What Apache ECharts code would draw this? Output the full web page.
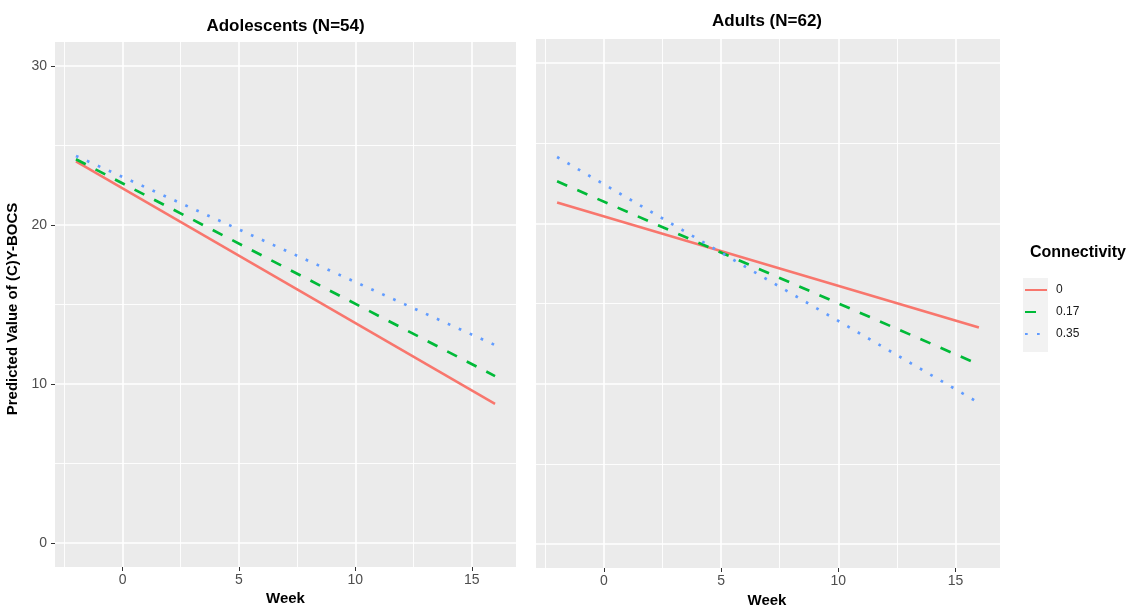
<!DOCTYPE html>
<html>
<head>
<meta charset="utf-8">
<script src="https://cdn.jsdelivr.net/npm/echarts@6/dist/echarts.min.js"></script>
<style>
  html, body { margin: 0; padding: 0; background: #fff; }
  #chart { width: 1145px; height: 609px; }
</style>
</head>
<body>
<div id="chart"></div>
<script>
// ---- data ----
const weekRange = [-2, 16];
const groups = ['0', '0.17', '0.35'];
const adolescent0 = [24.0, 8.75];
const adolescent017 = [24.13, 10.5];
const adolescent035 = [24.34, 12.45];
const adult0 = [21.3, 13.5];
const adult017 = [22.62, 11.2];
const adult035 = [24.14, 8.8];
const xTicks = [0, 5, 10, 15];
const yTicks = [0, 10, 20, 30];
const xMinor = [-2.5, 2.5, 7.5, 12.5];
const yMinor = [5, 15, 25];
const panelTitles = ['Adolescents (N=54)', 'Adults (N=62)'];

const colors = ['#F8766D', '#00BA38', '#619CFF'];
const lineTypes = ['solid', [11, 11], [2.7, 9.3]];
const FONT = '"Liberation Sans", Arial, Helvetica, sans-serif';

function toPoints(vals) {
  return weekRange.map((w, i) => [w, vals[i]]);
}

function gridSeries(idx) {
  const major = { color: '#ffffff', width: 1.6, type: 'solid' };
  const minor = { color: '#ffffff', width: 0.9, type: 'solid' };
  const d = [];
  xMinor.forEach(v => d.push({ xAxis: v, lineStyle: minor }));
  yMinor.forEach(v => d.push({ yAxis: v, lineStyle: minor }));
  xTicks.forEach(v => d.push({ xAxis: v, lineStyle: major }));
  yTicks.forEach(v => d.push({ yAxis: v, lineStyle: major }));
  return {
    type: 'line', name: 'grid' + idx, xAxisIndex: idx, yAxisIndex: idx,
    data: [], silent: true, z: 1, animation: false,
    markLine: {
      silent: true, z: 1, symbol: ['none', 'none'], animation: false,
      label: { show: false }, emphasis: { disabled: true },
      data: d
    }
  };
}

function dataSeries(idx, name, vals, k) {
  return {
    type: 'line', name: name, xAxisIndex: idx, yAxisIndex: idx,
    data: toPoints(vals), symbol: 'none', showSymbol: false, z: 3,
    animation: false, silent: true,
    lineStyle: { color: colors[k], width: k === 0 ? 2.5 : 2.7, type: lineTypes[k], cap: 'butt' },
    itemStyle: { color: colors[k] },
    emphasis: { disabled: true }
  };
}

function xAxisCfg(idx) {
  return {
    gridIndex: idx, type: 'value', min: -2.9, max: 16.9, position: 'bottom',
    axisLine: { show: false, onZero: false }, splitLine: { show: false },
    axisTick: { show: true, inside: false, customValues: xTicks, length: 4, lineStyle: { color: '#333333', width: 1 } },
    axisLabel: { show: true, customValues: xTicks, color: '#4D4D4D', fontSize: 14, fontFamily: FONT, margin: 6 }
  };
}

function yAxisCfg(idx, showLabels) {
  return {
    gridIndex: idx, type: 'value', min: -1.5, max: 31.5, position: 'left',
    axisLine: { show: false, onZero: false }, splitLine: { show: false },
    axisTick: { show: showLabels, inside: false, customValues: yTicks, length: 4, lineStyle: { color: '#333333', width: 1 } },
    axisLabel: { show: showLabels, customValues: yTicks, color: '#4D4D4D', fontSize: 14, fontFamily: FONT, margin: 8 }
  };
}

const option = {
  animation: false,
  backgroundColor: '#ffffff',
  grid: [
    { left: 55, top: 42, width: 461, height: 525, show: true, backgroundColor: '#EBEBEB', borderWidth: 0, containLabel: false },
    { left: 536, top: 39, width: 464, height: 529, show: true, backgroundColor: '#EBEBEB', borderWidth: 0, containLabel: false }
  ],
  xAxis: [xAxisCfg(0), xAxisCfg(1)],
  yAxis: [yAxisCfg(0, true), yAxisCfg(1, false)],
  legend: {
    data: groups, orient: 'vertical', left: 1024, top: 284, padding: 0,
    itemWidth: 22, itemHeight: 14, itemGap: 10,
    itemStyle: { color: 'rgba(0,0,0,0)', borderColor: 'rgba(0,0,0,0)', borderWidth: 0, opacity: 0 },
    textStyle: { fontSize: 12, color: '#1a1a1a', fontFamily: FONT, padding: [0, 0, 0, 4] },
    selectedMode: false
  },
  graphic: [
    { type: 'rect', z: 0, shape: { x: 1023, y: 278, width: 25, height: 74 }, style: { fill: '#F2F2F2' } },
    { type: 'text', x: 285.5, y: 26, style: { text: panelTitles[0], font: 'bold 17px ' + FONT, fill: '#000', align: 'center', verticalAlign: 'middle' } },
    { type: 'text', x: 767, y: 21, style: { text: panelTitles[1], font: 'bold 17px ' + FONT, fill: '#000', align: 'center', verticalAlign: 'middle' } },
    { type: 'text', x: 285.5, y: 599, style: { text: 'Week', font: 'bold 15px ' + FONT, fill: '#000', align: 'center', verticalAlign: 'middle' } },
    { type: 'text', x: 767, y: 601, style: { text: 'Week', font: 'bold 15px ' + FONT, fill: '#000', align: 'center', verticalAlign: 'middle' } },
    { type: 'text', x: 13, y: 309, rotation: Math.PI / 2, style: { text: 'Predicted Value of (C)Y-BOCS', font: 'bold 15px ' + FONT, fill: '#000', align: 'center', verticalAlign: 'middle' } },
    { type: 'text', x: 1030, y: 253, style: { text: 'Connectivity', font: 'bold 16px ' + FONT, fill: '#000', align: 'left', verticalAlign: 'middle' } }
  ],
  series: [
    gridSeries(0),
    gridSeries(1),
    dataSeries(0, groups[0], adolescent0, 0),
    dataSeries(0, groups[1], adolescent017, 1),
    dataSeries(0, groups[2], adolescent035, 2),
    dataSeries(1, groups[0], adult0, 0),
    dataSeries(1, groups[1], adult017, 1),
    dataSeries(1, groups[2], adult035, 2)
  ]
};

const chart = echarts.init(document.getElementById('chart'), null, { renderer: 'canvas' });
chart.setOption(option);
</script>
</body>
</html>
